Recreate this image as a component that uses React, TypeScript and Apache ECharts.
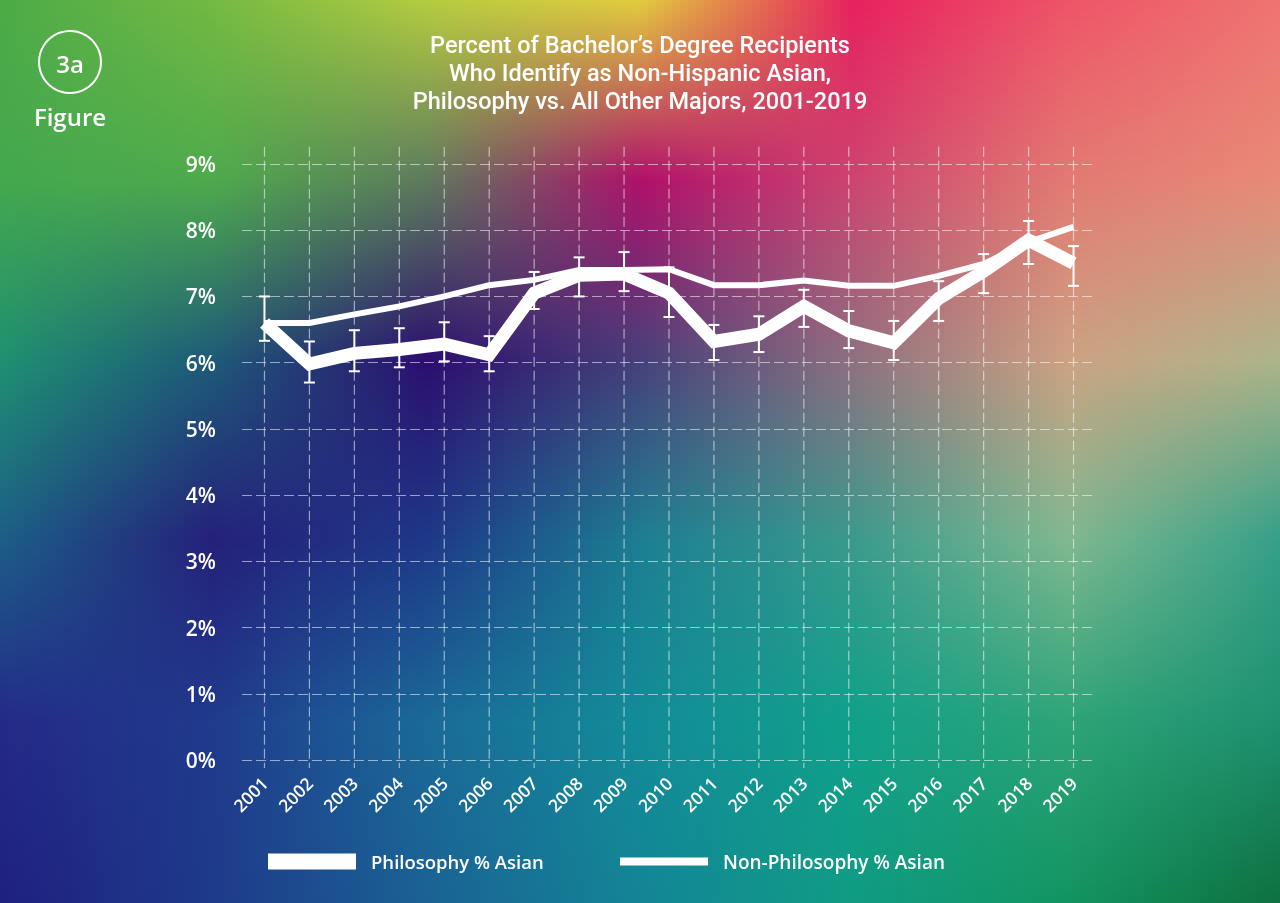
import React, { useEffect, useRef } from "react";
import * as echarts from "echarts";

const years = ["2001","2002","2003","2004","2005","2006","2007","2008","2009","2010","2011","2012","2013","2014","2015","2016","2017","2018","2019"];
const philosophy = [6.6, 5.98, 6.14, 6.2, 6.28, 6.12, 7.05, 7.32, 7.34, 7.05, 6.32, 6.43, 6.85, 6.48, 6.3, 6.97, 7.38, 7.85, 7.5];
const philLow = [6.33, 5.7, 5.87, 5.93, 6.02, 5.87, 6.81, 7.0, 7.08, 6.69, 6.04, 6.16, 6.54, 6.22, 6.04, 6.63, 7.05, 7.49, 7.16];
const philHigh = [7.0, 6.32, 6.49, 6.52, 6.61, 6.4, 7.37, 7.59, 7.67, 7.44, 6.57, 6.7, 7.1, 6.78, 6.63, 7.23, 7.64, 8.14, 7.76];
const nonPhilosophy = [6.6, 6.6, 6.73, 6.85, 7.0, 7.17, 7.25, 7.4, 7.4, 7.41, 7.17, 7.17, 7.24, 7.16, 7.16, 7.31, 7.49, 7.82, 8.05];
const yTicks = [0, 9, 1];
const titleLines = [
  "Percent of Bachelor\u2019s Degree Recipients",
  "Who Identify as Non-Hispanic Asian,",
  "Philosophy vs. All Other Majors, 2001-2019",
];

// background colour mesh (decoration only)
const bgX = [0, 213, 427, 640, 853, 1067, 1280];
const bgY = [0, 180, 360, 540, 720, 903];
const bgColors = [
  ["#4cab47", "#74b943", "#b4cc40", "#e2cc3e", "#e8205e", "#ee5468", "#ee7470"],
  ["#44a84e", "#4eaa4c", "#5e7a5e", "#b0106a", "#cc4470", "#e27a72", "#e88a78"],
  ["#1f9070", "#1e5a78", "#2c0e6e", "#46407a", "#8e7080", "#cca282", "#acb48a"],
  ["#1c5e86", "#25207a", "#1e3888", "#1c7e92", "#3a9a8c", "#80b890", "#34a088"],
  ["#242a88", "#203a8c", "#1a6a98", "#128c98", "#10a08a", "#2ea478", "#1e9070"],
  ["#1e2080", "#1e3a8a", "#1a6294", "#138596", "#109c84", "#129460", "#0e7040"],
];

const FONT = "'Open Sans', 'Noto Sans', sans-serif";
const TITLE_FONT = "Roboto, 'Open Sans', sans-serif";

function hex(c: string) {
  return [parseInt(c.slice(1, 3), 16), parseInt(c.slice(3, 5), 16), parseInt(c.slice(5, 7), 16)];
}
function mix(a: string, b: string, f: number) {
  const A = hex(a), B = hex(b);
  const r = A.map((v, i) => Math.round(v + (B[i] - v) * f));
  return `rgb(${r[0]},${r[1]},${r[2]})`;
}

function buildBackground() {
  const strips: any[] = [];
  const W = 1280, H = 903, step = 8;
  for (let x = 0; x < W; x += step) {
    const cx = x + step / 2;
    let j = 0;
    while (j < bgX.length - 2 && cx > bgX[j + 1]) j++;
    const f = Math.min(1, Math.max(0, (cx - bgX[j]) / (bgX[j + 1] - bgX[j])));
    const stops = bgY.map((y, i) => ({ offset: y / H, color: mix(bgColors[i][j], bgColors[i][j + 1], f) }));
    strips.push({
      type: "rect",
      silent: true,
      shape: { x: x, y: 0, width: step + 1, height: H },
      style: {
        fill: { type: "linear", global: true, x: 0, y: 0, x2: 0, y2: H, colorStops: stops },
      },
    });
  }
  return { type: "group", z: -100, silent: true, children: strips };
}

export default function App() {
  const ref = useRef<HTMLDivElement>(null);
  useEffect(() => {
    if (!ref.current) return;
    const chart = echarts.init(ref.current, null, { renderer: "svg" });
    const titleG = titleLines.map((t, i) => ({
      type: "text",
      x: 640,
      y: 45 + i * 27.8,
      silent: true,
      style: {
        text: t,
        fill: "#ffffff",
        fontSize: 23.5,
        fontWeight: 500,
        fontFamily: TITLE_FONT,
        textAlign: "center",
        textVerticalAlign: "middle",
      },
    }));
    const badge = [
      {
        type: "circle",
        shape: { cx: 70, cy: 62, r: 31 },
        style: { fill: "none", stroke: "#ffffff", lineWidth: 2 },
      },
      {
        type: "text",
        x: 70,
        y: 63,
        style: { text: "3a", fill: "#fff", fontSize: 24, fontWeight: 600, fontFamily: FONT, textAlign: "center", textVerticalAlign: "middle" },
      },
      {
        type: "text",
        x: 70,
        y: 116,
        style: { text: "Figure", fill: "#fff", fontSize: 24, fontWeight: 600, fontFamily: FONT, textAlign: "center", textVerticalAlign: "middle" },
      },
    ];

    const option = {
      animation: false,
      backgroundColor: "transparent",
      textStyle: { fontFamily: FONT },
      graphic: [buildBackground(), ...titleG, ...badge],
      grid: { left: 242, right: 184, top: 164, bottom: 143, containLabel: false },
      legend: [
        {
          data: ["Philosophy % Asian"],
          left: 263,
          top: 847,
          icon: "rect",
          itemWidth: 88,
          itemHeight: 16,
          textStyle: { color: "#fff", fontSize: 18.5, fontWeight: 600, fontFamily: FONT, padding: [0, 0, 0, 10] },
        },
        {
          data: ["Non-Philosophy % Asian"],
          left: 615,
          top: 847,
          icon: "rect",
          itemWidth: 88,
          itemHeight: 8,
          textStyle: { color: "#fff", fontSize: 19, fontWeight: 600, fontFamily: FONT, padding: [0, 0, 0, 10] },
        },
      ],
      xAxis: {
        type: "category",
        data: years,
        boundaryGap: true,
        axisLine: { show: false },
        axisTick: { show: false },
        splitLine: { show: false },
        axisLabel: { color: "#fff", fontSize: 17.5, fontWeight: 600, rotate: 45, margin: 20, fontFamily: FONT },
      },
      yAxis: {
        type: "value",
        min: yTicks[0],
        max: yTicks[1],
        interval: yTicks[2],
        axisLine: { show: false },
        axisTick: { show: false },
        axisLabel: { color: "#fff", fontSize: 21, fontWeight: 600, margin: 26, formatter: "{value}%", fontFamily: FONT },
        splitLine: { show: true, lineStyle: { color: "rgba(255,255,255,0.55)", width: 1.2, type: [10, 4] } },
      },
      series: [
        {
          type: "custom",
          name: "vgrid",
          silent: true,
          clip: false,
          z: 1,
          data: years.map((_, i) => [i]),
          renderItem: (params: any, api: any) => {
            const i = api.value(0);
            const p1 = api.coord([i, 9.26]);
            const p2 = api.coord([i, -0.12]);
            return {
              type: "line",
              shape: { x1: p1[0], y1: p1[1], x2: p2[0], y2: p2[1] },
              style: { stroke: "rgba(255,255,255,0.55)", lineWidth: 1.2, lineDash: [10, 4] },
            };
          },
        },
        {
          type: "line",
          name: "Non-Philosophy % Asian",
          data: nonPhilosophy,
          symbol: "none",
          z: 3,
          itemStyle: { color: "#ffffff" },
          lineStyle: { color: "#ffffff", width: 6, join: "miter" },
        },
        {
          type: "line",
          name: "Philosophy % Asian",
          data: philosophy,
          symbol: "none",
          z: 4,
          itemStyle: { color: "#ffffff" },
          lineStyle: { color: "#ffffff", width: 13, join: "miter" },
        },
        {
          type: "custom",
          name: "errors",
          silent: true,
          z: 5,
          data: years.map((_, i) => [i, philLow[i], philHigh[i]]),
          renderItem: (params: any, api: any) => {
            const i = api.value(0);
            const lo = api.coord([i, api.value(1)]);
            const hi = api.coord([i, api.value(2)]);
            const w = 5.5;
            const st = { stroke: "#ffffff", lineWidth: 2 };
            return {
              type: "group",
              children: [
                { type: "line", shape: { x1: lo[0], y1: lo[1], x2: hi[0], y2: hi[1] }, style: st },
                { type: "line", shape: { x1: lo[0] - w, y1: lo[1], x2: lo[0] + w, y2: lo[1] }, style: st },
                { type: "line", shape: { x1: hi[0] - w, y1: hi[1], x2: hi[0] + w, y2: hi[1] }, style: st },
              ],
            };
          },
        },
      ],
    };
    chart.setOption(option as any);
    return () => chart.dispose();
  }, []);
  return (
    <div
      ref={ref}
      style={{ position: "fixed", left: 0, top: 0, width: "1280px", height: "903px" }}
    />
  );
}
